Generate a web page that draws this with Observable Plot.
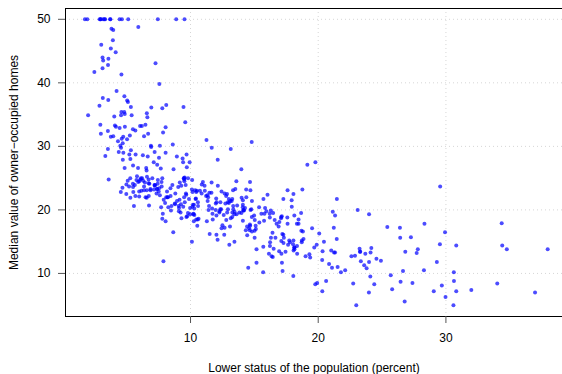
<!DOCTYPE html>
<html>
<head>
<meta charset="utf-8">
<script src="https://cdn.jsdelivr.net/npm/d3@7"></script>
<script src="https://cdn.jsdelivr.net/npm/@observablehq/plot@0.6"></script>
<style>
  html, body { margin: 0; padding: 0; background: #fff; }
  #chart svg { display: block; font-family: "Liberation Sans", Arial, sans-serif; }
</style>
</head>
<body>
<div id="chart"></div>
<script>
const lstat = [4.98,9.14,4.03,2.94,5.33,5.21,12.43,19.15,29.93,17.10,20.45,13.27,15.71,8.26,10.26,8.47,6.58,14.67,11.69,11.28,21.02,13.83,18.72,19.88,16.30,16.51,14.81,17.28,12.80,11.98,22.60,13.04,27.71,18.35,20.34,9.68,11.41,8.77,10.13,4.32,1.98,4.84,5.81,7.44,9.55,10.21,14.15,18.80,30.81,16.20,13.45,9.43,5.28,8.43,14.80,4.81,5.77,3.95,6.86,9.22,13.15,14.44,6.73,9.50,8.05,4.67,10.24,8.10,13.09,8.79,6.72,9.88,5.52,7.54,6.78,8.94,11.97,10.27,12.34,9.10,5.29,7.22,6.72,7.51,9.62,6.53,12.86,8.44,5.50,5.70,8.81,8.20,8.16,6.21,10.59,6.65,11.34,4.21,3.57,6.19,9.42,7.67,10.63,13.44,12.33,16.47,18.66,14.09,12.27,15.55,13.00,10.16,16.21,17.09,10.45,15.76,12.04,10.30,15.37,13.61,14.37,14.27,17.93,25.41,17.58,14.81,27.26,17.19,15.39,18.34,12.60,12.26,11.12,15.03,17.31,16.96,16.90,14.59,21.32,18.46,24.16,34.41,26.82,26.42,29.29,27.80,16.65,29.53,28.32,21.45,14.10,13.28,12.12,15.79,15.12,15.02,16.14,4.59,6.43,7.39,5.50,1.73,1.92,3.32,11.64,9.81,3.70,12.14,11.10,11.32,14.43,12.03,14.69,9.04,9.64,5.33,10.11,6.29,6.92,5.04,7.56,9.45,4.82,5.68,13.98,13.15,4.45,6.68,4.56,5.39,5.10,4.69,2.87,5.03,4.38,2.97,4.08,8.61,6.62,4.56,4.45,7.43,3.11,3.81,2.88,10.87,10.97,18.06,14.66,23.09,17.27,23.98,16.03,9.38,29.55,9.47,13.51,9.69,17.92,10.50,9.71,21.46,9.93,7.60,4.14,4.63,3.13,6.36,3.92,3.76,11.65,5.25,2.47,3.95,8.05,10.88,9.54,4.73,6.36,7.37,11.38,12.40,11.22,5.19,12.50,18.46,9.16,10.15,9.52,6.56,5.90,3.59,3.53,3.54,6.57,9.25,3.11,5.12,7.79,6.90,9.59,7.26,5.91,11.25,8.10,10.45,14.79,7.44,3.16,13.65,13.00,6.59,7.73,6.58,3.53,2.98,6.05,4.16,7.19,4.85,3.76,4.59,3.01,3.16,7.85,8.23,12.93,7.14,7.60,9.51,3.33,3.56,4.70,8.58,10.40,6.27,7.39,15.84,4.97,4.74,6.07,9.50,8.67,4.86,6.93,8.93,6.47,7.53,4.54,9.97,12.64,5.98,11.72,7.90,9.28,11.50,18.33,15.94,10.36,12.73,7.20,6.87,7.70,11.74,6.12,5.08,6.15,12.79,9.97,7.34,9.09,12.43,7.83,5.68,6.75,8.01,9.80,10.56,8.51,9.74,9.29,5.49,8.65,7.18,4.61,10.53,12.67,6.36,5.99,5.89,5.98,5.49,7.79,4.50,8.05,5.57,17.60,13.27,11.48,12.67,7.79,14.19,10.19,14.64,5.29,7.12,14.00,13.33,3.26,3.73,2.96,9.53,8.88,34.77,37.97,13.44,23.24,21.24,23.69,21.78,17.21,21.08,23.60,24.56,30.63,30.81,28.28,31.99,30.62,20.85,17.11,18.76,25.68,15.17,16.35,17.12,19.37,19.92,30.59,29.97,26.77,20.32,20.31,19.77,27.38,22.98,23.34,12.13,26.40,19.78,10.11,21.22,34.37,20.08,36.98,29.05,25.79,26.64,20.62,22.74,15.02,15.70,14.10,23.29,17.16,24.39,15.69,14.52,21.52,24.08,17.64,19.69,12.03,16.22,15.17,23.27,18.05,26.45,34.02,22.88,22.11,19.52,16.59,18.85,23.79,23.98,17.79,16.44,18.13,19.31,17.44,17.73,17.27,16.74,18.71,18.13,19.01,16.94,16.23,14.70,16.42,14.65,13.99,10.29,13.22,14.13,17.15,21.32,18.13,14.76,16.29,12.87,14.36,11.66,18.14,24.10,18.68,24.91,18.03,13.11,10.74,7.74,7.01,10.42,13.34,10.58,14.98,11.45,18.06,23.97,29.68,18.07,13.35,12.01,13.59,17.60,21.14,14.10,12.92,15.10,14.33,9.67,9.08,5.64,6.48,7.88];
const medv = [24.0,21.6,34.7,33.4,36.2,28.7,22.9,27.1,16.5,18.9,15.0,18.9,21.7,20.4,18.2,19.9,23.1,17.5,20.2,18.2,13.6,19.6,15.2,14.5,15.6,13.9,16.6,14.8,18.4,21.0,12.7,14.5,13.2,13.1,13.5,18.9,20.0,21.0,24.7,30.8,34.9,26.6,25.3,24.7,21.2,19.3,20.0,16.6,14.4,19.4,19.7,20.5,25.0,23.4,18.9,35.4,24.7,31.6,23.3,19.6,18.7,16.0,22.2,25.0,33.0,23.5,19.4,22.0,17.4,20.9,24.2,21.7,22.8,23.4,24.1,21.4,20.0,20.8,21.2,20.3,28.0,23.9,24.8,22.9,23.9,26.6,22.5,22.2,23.6,28.7,22.6,22.0,22.9,25.0,20.6,28.4,21.4,38.7,43.8,33.2,27.5,26.5,18.6,19.3,20.1,19.5,19.5,20.4,19.8,19.4,21.7,22.8,18.8,18.7,18.5,18.3,21.2,19.2,20.4,19.3,22.0,20.3,20.5,17.3,18.8,21.4,15.7,16.2,18.0,14.3,19.2,19.6,23.0,18.4,15.6,18.1,17.4,17.1,13.3,17.8,14.0,14.4,13.4,15.6,11.8,13.8,15.6,14.6,17.8,15.4,21.5,19.6,15.3,19.4,17.0,15.6,13.1,41.3,24.3,23.3,27.0,50.0,50.0,50.0,22.7,25.0,50.0,23.8,23.8,22.3,17.4,19.1,23.1,23.6,22.6,29.4,23.2,24.6,29.9,37.2,39.8,36.2,37.9,32.5,26.4,29.6,50.0,32.0,29.8,34.9,37.0,30.5,36.4,31.1,29.1,50.0,33.3,30.3,34.6,34.9,32.9,24.1,42.3,48.5,50.0,22.6,24.4,22.5,24.4,20.0,21.7,19.3,22.4,28.1,23.7,25.0,23.3,28.7,21.5,23.0,26.7,21.7,27.5,30.1,44.8,50.0,37.6,31.6,46.7,31.5,24.3,31.7,41.7,48.3,29.0,24.0,25.1,31.5,23.7,23.3,22.0,20.1,22.2,23.7,17.6,18.5,24.3,20.5,24.5,26.2,24.4,24.8,29.6,42.8,21.9,20.9,44.0,50.0,36.0,30.1,33.8,43.1,48.8,31.0,36.5,22.8,30.7,50.0,43.5,20.7,21.1,25.2,24.4,35.2,32.4,32.0,33.2,33.1,29.1,35.1,45.4,35.4,46.0,50.0,32.2,22.0,20.1,23.2,22.3,24.8,28.5,37.3,27.9,23.9,21.7,28.6,27.1,20.3,22.5,29.0,24.8,22.0,26.4,33.1,36.1,28.4,33.4,28.2,22.8,20.3,16.1,22.1,19.4,21.6,23.8,16.2,17.8,19.8,23.1,21.0,23.8,23.1,20.4,18.5,25.0,24.6,23.0,22.2,19.3,22.6,19.8,17.1,19.4,22.2,20.7,21.1,19.5,18.5,20.6,19.0,18.7,32.7,16.5,23.9,31.2,17.5,17.2,23.1,24.5,26.6,22.9,24.1,18.6,30.1,18.2,20.6,17.8,21.7,22.7,22.6,25.0,19.9,20.8,16.8,21.9,27.5,21.9,23.1,50.0,50.0,50.0,50.0,50.0,13.8,13.8,15.0,13.9,13.3,13.1,10.2,10.4,10.9,11.3,12.3,8.8,7.2,10.5,7.4,10.2,11.5,15.1,23.2,9.7,13.8,12.7,13.1,12.5,8.5,5.0,6.3,5.6,7.2,12.1,8.3,8.5,5.0,11.9,27.9,17.2,27.5,15.0,17.2,17.9,16.3,7.0,7.2,7.5,10.4,8.8,8.4,16.7,14.2,20.8,13.4,11.7,8.3,10.2,10.9,11.0,9.5,14.5,14.1,16.1,14.3,11.7,13.4,9.6,8.7,8.4,12.8,10.5,17.1,18.4,15.4,10.8,11.8,14.9,12.6,14.1,13.0,13.4,15.2,16.1,17.8,14.9,14.1,12.7,13.5,14.9,20.0,16.4,17.7,19.5,20.2,21.4,19.9,19.0,19.1,19.1,20.1,19.9,19.6,23.2,29.8,13.8,13.3,16.7,12.0,14.6,21.4,23.0,23.7,25.0,21.8,20.6,21.2,19.1,20.6,15.2,7.0,8.1,13.6,20.1,21.8,24.5,23.1,19.7,18.3,21.2,17.5,16.8,22.4,20.6,23.9,22.0,11.9];

const xTicks = [10, 20, 30];
const yTicks = [10, 20, 30, 40, 50];
const xTitle = "Lower status of the population (percent)";
const yTitle = "Median value of owner\u2212occupied homes";

const data = lstat.map((x, i) => ({lstat: x, medv: medv[i]}));

const chart = Plot.plot({
  width: 562,
  height: 374,
  marginLeft: 65,
  marginRight: 0,
  marginTop: 8,
  marginBottom: 58,
  style: {fontFamily: "Liberation Sans, Arial, sans-serif", fontSize: "12px", color: "#000", background: "#fff"},
  x: {domain: [0.21, 39.13], axis: null},
  y: {domain: [3.22, 51.7], axis: null},
  marks: [
    Plot.gridX(xTicks, {stroke: "#d6d6d6", strokeOpacity: 1, strokeDasharray: "1,3", strokeWidth: 1}),
    Plot.gridY(yTicks, {stroke: "#d6d6d6", strokeOpacity: 1, strokeDasharray: "1,3", strokeWidth: 1}),
    Plot.dot(data, {x: "lstat", y: "medv", r: 2, fill: "#0000ff", fillOpacity: 0.7, stroke: "none"}),
    Plot.frame({stroke: "#000", strokeWidth: 1}),
    Plot.axisX(xTicks, {tickSize: 7, tickPadding: 10, stroke: "#555", fill: "#000", fontSize: 12, label: null}),
    Plot.axisY(yTicks, {tickSize: 7, tickPadding: 8, stroke: "#555", fill: "#000", fontSize: 12, label: null}),
    Plot.text([xTitle], {frameAnchor: "bottom", dy: 52, lineAnchor: "middle", fontSize: 12, fill: "#000"}),
    Plot.text([yTitle], {frameAnchor: "left", dx: -51, rotate: -90, lineAnchor: "middle", textAnchor: "middle", fontSize: 12, fill: "#000"})
  ]
});
document.getElementById("chart").appendChild(chart);
</script>
</body>
</html>
